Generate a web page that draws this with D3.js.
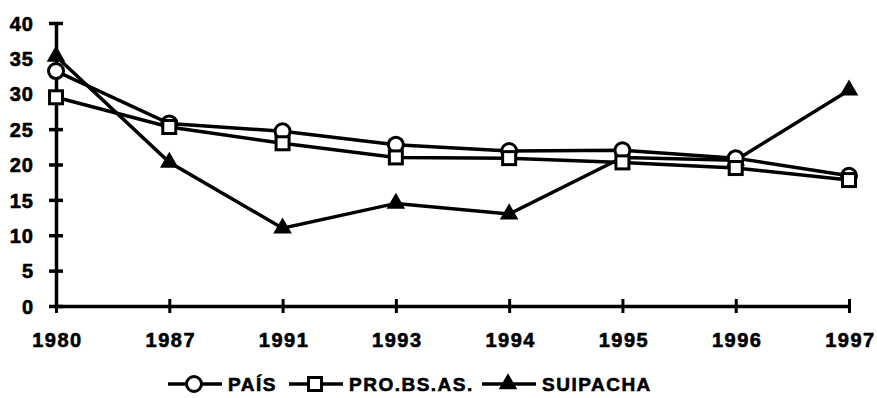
<!DOCTYPE html>
<html><head><meta charset="utf-8">
<script src="https://cdn.jsdelivr.net/npm/d3@7"></script>
<style>body{margin:0;background:#fff}svg{display:block}</style>
</head><body>
<svg id="c" width="877" height="398"></svg>
<script>
const years = ["1980","1987","1991","1993","1994","1995","1996","1997"];
const pais = [33.2, 25.8, 24.7, 22.8, 21.9, 22.0, 20.9, 18.4];
const proBsAs = [29.5, 25.3, 23.0, 21.0, 20.9, 20.3, 19.5, 17.8];
const suipacha = [35.3, 20.3, 11.0, 14.5, 13.0, 21.0, 20.6, 30.5];
const yTicks = [0,5,10,15,20,25,30,35,40];
const seriesNames = ["PAÍS","PRO.BS.AS.","SUIPACHA"];

const svg = d3.select("#c");
const x = d3.scalePoint().domain(years).range([56, 849]);
const y = d3.scaleLinear().domain([0,40]).range([306, 23]);
const font = "'Liberation Sans', Arial, sans-serif";

// axes
const yAx = svg.append("g").attr("transform","translate(56,0)")
  .call(d3.axisLeft(y).tickValues(yTicks).tickSize(7).tickSizeOuter(0));
yAx.select(".domain").attr("stroke","#000").attr("stroke-width",3.5);
yAx.selectAll(".tick line").attr("stroke","#000").attr("stroke-width",3.5).attr("x1",7).attr("x2",-7);
yAx.selectAll(".tick text").attr("x",-22).attr("dy","0.36em").attr("font-family",font).attr("font-weight","bold")
  .attr("font-size",20).attr("letter-spacing",1).attr("fill","#000").attr("stroke","#000").attr("stroke-width",0.6);

const xAx = svg.append("g").attr("transform","translate(0,306)")
  .call(d3.axisBottom(x).tickSize(7).tickSizeOuter(0));
xAx.select(".domain").attr("stroke","#000").attr("stroke-width",3.5);
xAx.selectAll(".tick line").attr("stroke","#000").attr("stroke-width",3).attr("y1",-7).attr("y2",7);
xAx.selectAll(".tick text").attr("y",41).attr("dy",0).attr("dx",1).attr("font-family",font).attr("font-weight","bold")
  .attr("font-size",20).attr("letter-spacing",1.5).attr("fill","#000").attr("stroke","#000").attr("stroke-width",0.6);

const line = d3.line().x((d,i)=>x(years[i])).y(d=>y(d));
const data = [pais, proBsAs, suipacha];
const draw = [
  (g,cx,cy)=>g.append("circle").attr("cx",cx).attr("cy",cy).attr("r",7.5).attr("fill","#fff").attr("stroke","#000").attr("stroke-width",3),
  (g,cx,cy)=>g.append("rect").attr("x",cx-6.5).attr("y",cy-6.5).attr("width",13).attr("height",13).attr("fill","#fff").attr("stroke","#000").attr("stroke-width",3),
  (g,cx,cy)=>g.append("path").attr("d",d3.symbol(d3.symbolTriangle, 150)()).attr("transform",`translate(${cx},${cy})`).attr("fill","#000")
];
const order = [2,0,1];
order.forEach(k=>{
  svg.append("path").datum(data[k]).attr("d",line).attr("fill","none").attr("stroke","#000").attr("stroke-width",3.5);
});
order.forEach(k=>{
  const g = svg.append("g");
  data[k].forEach((v,i)=>draw[k](g, x(years[i]), y(v)));
});

// legend
const legX = [168, 289, 482];
seriesNames.forEach((n,k)=>{
  const g = svg.append("g");
  const lx = legX[k], ly = 384;
  g.append("line").attr("x1",lx).attr("x2",lx+54).attr("y1",ly).attr("y2",ly).attr("stroke","#000").attr("stroke-width",3.5);
  draw[k](g, lx+26, ly);
  g.append("text").attr("x",lx+60).attr("y",ly+7).text(n)
    .attr("font-family",font).attr("font-weight","bold").attr("font-size",19).attr("letter-spacing",1.5)
    .attr("fill","#000").attr("stroke","#000").attr("stroke-width",0.6);
});
</script>
</body></html>
